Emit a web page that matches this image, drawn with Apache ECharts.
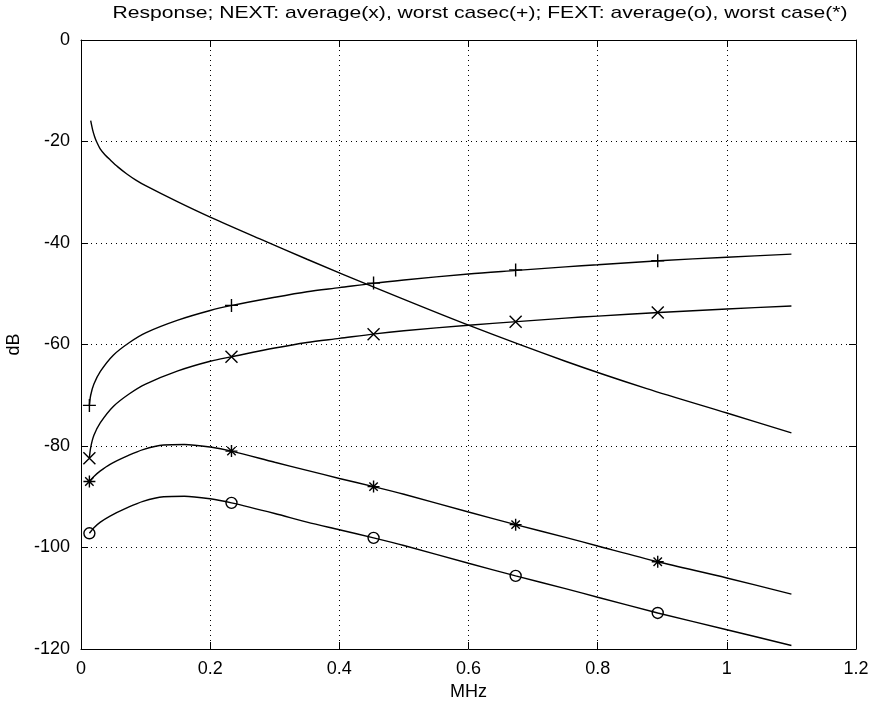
<!DOCTYPE html>
<html>
<head>
<meta charset="utf-8">
<script src="https://cdn.jsdelivr.net/npm/echarts@6/dist/echarts.min.js"></script>
<style>html,body{margin:0;padding:0;background:#fff}#c{width:874px;height:704px}</style>
</head>
<body>
<div id="c"></div>
<script>
// ---- data ----
var titleText = 'Response; NEXT: average(x), worst casec(+); FEXT: average(o), worst case(*)';
var xName = 'MHz';
var yName = 'dB';
var xTicks = [0, 0.2, 0.4, 0.6, 0.8, 1, 1.2];
var yTicks = [-120, -100, -80, -60, -40, -20, 0];

var respX = [0.015, 0.018, 0.021, 0.024, 0.03, 0.037, 0.045, 0.057, 0.071, 0.085, 0.1, 0.15, 0.2, 0.277, 0.35, 0.463, 0.6, 0.75, 0.876, 1.0, 1.1];
var respY = [-15.9, -17.7, -19.0, -20.0, -21.5, -22.6, -23.6, -25.0, -26.4, -27.6, -28.7, -31.9, -34.9, -39.2, -43.2, -49.2, -56.2, -63.3, -68.7, -73.5, -77.4];

var nextX = [0.013, 0.015, 0.02, 0.03, 0.05, 0.075, 0.1, 0.15, 0.2, 0.234, 0.3, 0.35, 0.4, 0.455, 0.5, 0.6, 0.675, 0.75, 0.8, 0.895, 1.0, 1.1];
var nextWorstY = [-72.0, -70.0, -67.8, -65.3, -62.1, -59.6, -57.7, -55.2, -53.3, -52.3, -50.7, -49.6, -48.8, -47.9, -47.3, -46.1, -45.4, -44.7, -44.3, -43.5, -42.8, -42.2];
var nextAvgY   = [-82.3, -80.3, -77.9, -75.4, -72.2, -69.7, -67.8, -65.2, -63.3, -62.4, -60.7, -59.6, -58.8, -57.9, -57.3, -56.2, -55.5, -54.8, -54.4, -53.7, -53.0, -52.4];

var fextX = [0.013, 0.02, 0.03, 0.045, 0.071, 0.096, 0.128, 0.16, 0.2, 0.233, 0.3, 0.35, 0.4, 0.453, 0.5, 0.6, 0.673, 0.75, 0.8, 0.893, 1.0, 1.1];
var fextWorstY = [-87.0, -86.0, -84.9, -83.6, -82.0, -80.7, -79.8, -79.7, -80.2, -81.0, -83.2, -84.8, -86.4, -88.0, -89.5, -93.0, -95.5, -98.0, -99.7, -102.8, -106.0, -109.2];
var fextAvgY   = [-97.2, -96.1, -95.0, -93.8, -92.2, -90.9, -90.0, -89.9, -90.4, -91.2, -93.3, -95.0, -96.5, -98.1, -99.6, -103.1, -105.6, -108.1, -109.8, -112.9, -116.2, -119.3];

var markX = [0.013, 0.233, 0.453, 0.673, 0.893];
var markNextWorst = [-72.0, -52.3, -47.9, -45.3, -43.5];
var markNextAvg   = [-82.4, -62.4, -58.0, -55.5, -53.7];
var markFextWorst = [-87.0, -81.0, -88.0, -95.5, -102.8];
var markFextAvg   = [-97.2, -91.2, -98.1, -105.6, -112.9];

// ---- build ----
function pairs(xs, ys) { return xs.map(function (x, i) { return [x, ys[i]]; }); }
var FONT = '"Liberation Sans", Arial, Helvetica, sans-serif';
function lineSeries(xs, ys) {
  return { type: 'line', data: pairs(xs, ys), symbol: 'none', smooth: 0.3,
           lineStyle: { color: '#000', width: 1.4 }, silent: true, z: 3 };
}
function markSeries(ys, symbol, size) {
  return { type: 'scatter', data: pairs(markX, ys), symbol: symbol, symbolSize: size,
           itemStyle: { color: 'transparent', borderColor: '#000', borderWidth: 1.4, opacity: 1 },
           silent: true, z: 4 };
}
var plusPath = 'path://M0,-1L0,1M-1,0L1,0';
var crossPath = 'path://M-1,-1L1,1M-1,1L1,-1';
var starPath = 'path://M0,-1L0,1M-1,0L1,0M-0.7,-0.7L0.7,0.7M-0.7,0.7L0.7,-0.7';

// title is drawn slightly widened to match the reference's letter widths
var titleFont = '17px ' + FONT;
var cv = document.createElement('canvas').getContext('2d');
cv.font = titleFont;
var titleScaleX = 735 / cv.measureText(titleText).width;

var chart = echarts.init(document.getElementById('c'), null, { renderer: 'canvas' });
var axisBase = {
  type: 'value',
  axisLine: { show: true, onZero: false, lineStyle: { color: '#000', width: 1 } },
  axisTick: { show: true, inside: true, length: 7, lineStyle: { color: '#000' } },
  splitLine: { show: false },
  axisLabel: { show: false }
};
var labelStyle = { fontSize: 18, fontFamily: FONT, color: '#000' };
chart.setOption({
  animation: false,
  backgroundColor: '#fff',
  graphic: [{ type: 'text', x: 480, y: 5, scaleX: titleScaleX,
    style: { text: titleText, textAlign: 'center', textVerticalAlign: 'top', font: titleFont, fill: '#000' } }],
  grid: { left: 81, right: 18, top: 40, bottom: 55, show: false, containLabel: false, outerBoundsMode: 'none' },
  xAxis: [
    Object.assign({}, axisBase, {
      min: 0, max: 1.2, interval: 0.2, position: 'bottom',
      name: xName, nameLocation: 'middle', nameGap: 33,
      nameTextStyle: labelStyle,
      axisLabel: Object.assign({ show: true, margin: 11,
        formatter: function (v) { return xTicks.indexOf(+v.toFixed(1)) >= 0 ? String(+v.toFixed(1)) : ''; } }, labelStyle),
      splitLine: { show: true, lineStyle: { color: '#000', type: [1, 4], width: 1 } }
    }),
    Object.assign({}, axisBase, { min: 0, max: 1.2, interval: 0.2, position: 'top' })
  ],
  yAxis: [
    Object.assign({}, axisBase, {
      min: -120, max: 0, interval: 20, position: 'left',
      name: yName, nameLocation: 'middle', nameGap: 58, nameRotate: 90,
      nameTextStyle: labelStyle,
      axisLabel: Object.assign({ show: true, margin: 11,
        formatter: function (v) { return yTicks.indexOf(v) >= 0 ? String(v) : ''; } }, labelStyle),
      splitLine: { show: true, lineStyle: { color: '#000', type: [1, 4], width: 1 } }
    }),
    Object.assign({}, axisBase, { min: -120, max: 0, interval: 20, position: 'right' })
  ],
  series: [
    lineSeries(respX, respY),
    lineSeries(nextX, nextWorstY),
    lineSeries(nextX, nextAvgY),
    lineSeries(fextX, fextWorstY),
    lineSeries(fextX, fextAvgY),
    markSeries(markNextWorst, plusPath, 13),
    markSeries(markNextAvg, crossPath, 12),
    markSeries(markFextWorst, starPath, 12),
    markSeries(markFextAvg, 'circle', 11)
  ]
});
</script>
</body>
</html>
